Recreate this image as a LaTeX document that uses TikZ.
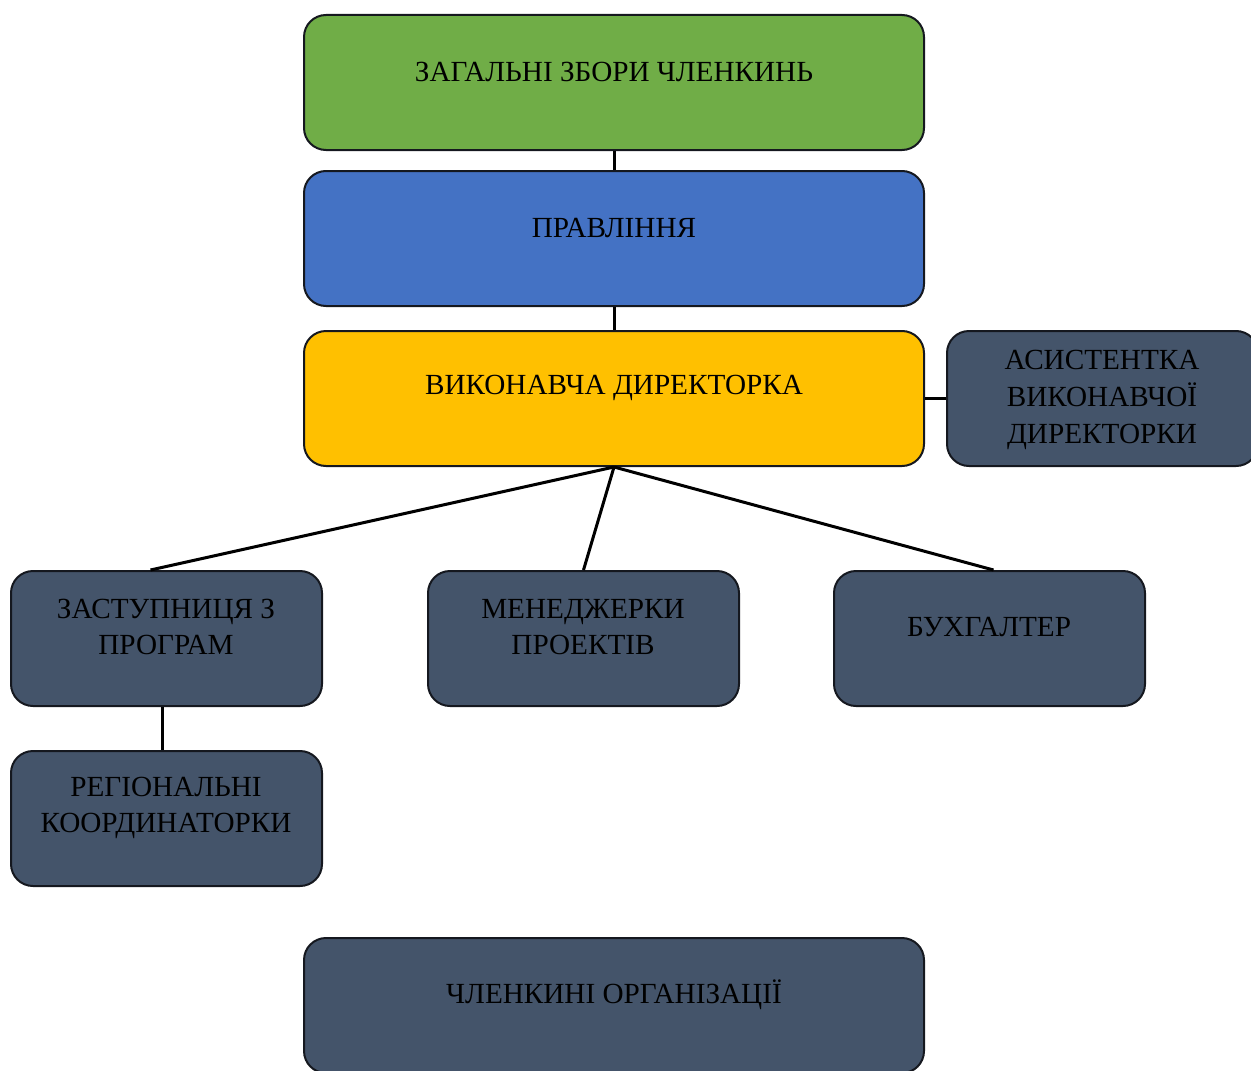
\documentclass[tikz,border=0pt]{standalone}
\usepackage{fontspec}
\setmainfont{Liberation Serif}
\definecolor{zelenyi}{HTML}{70AD47}
\definecolor{synii}{HTML}{4472C4}
\definecolor{zhovtyi}{HTML}{FFC000}
\definecolor{siryi}{HTML}{44546A}
\definecolor{obvid}{HTML}{15181F}
\tikzset{
    orgbox/.style={
        draw=obvid,
        line width=1pt,
        rounded corners=11pt,
        fill=#1,
        minimum width=310pt,
        minimum height=67.5pt,
        inner sep=0pt
    },
    smallbox/.style={
        orgbox=siryi,
        minimum width=155.5pt
    },
    boxtext/.style={
        align=center,
        inner sep=0pt,
        font=\fontsize{14.6}{18.4}\selectfont
    },
    link/.style={
        line width=1.5pt
    }
}

\begin{document}
\begin{tikzpicture}[x=0.5pt, y=-0.5pt]
\useasboundingbox (0,0) rectangle (1251,1070);
\clip (0,0) rectangle (1251,1070);

% boxes of the main column:
\node [orgbox=zelenyi] (zbory) at (614,82.5) {};
\node [orgbox=synii] (pravlinnia) at (614,238.5) {};
\node [orgbox=zhovtyi] (dyrektorka) at (614,398.5) {};
\node [orgbox=siryi] (chlenkyni) at (614,1005.5) {};

% staff boxes:
\node [smallbox] (asystentka) at (1102.5,398.5) {};
\node [smallbox] (zastupnytsia) at (166.5,638.5) {};
\node [smallbox] (menedzherky) at (583.5,638.5) {};
\node [smallbox] (bukhalter) at (989.5,638.5) {};
\node [smallbox] (rehionalni) at (166.5,818.5) {};

% texts, set a little above the middle
\node [boxtext] (zbory-t) at (614,72) {ЗАГАЛЬНІ ЗБОРИ ЧЛЕНКИНЬ};
\node [boxtext] (pravlinnia-t) at (614,228) {ПРАВЛІННЯ};
\node [boxtext] (dyrektorka-t) at (614,388) {ВИКОНАВЧА ДИРЕКТОРКА};
\node [boxtext] (asystentka-t) at (1102,400) {АСИСТЕНТКА\\ВИКОНАВЧОЇ\\ДИРЕКТОРКИ};
\node [boxtext] (zastupnytsia-t) at (166,627) {ЗАСТУПНИЦЯ З\\ПРОГРАМ};
\node [boxtext] (menedzherky-t) at (583,627) {МЕНЕДЖЕРКИ\\ПРОЕКТІВ};
\node [boxtext] (bukhalter-t) at (989,627) {БУХГАЛТЕР};
\node [boxtext] (rehionalni-t) at (166,808) {РЕГІОНАЛЬНІ\\КООРДИНАТОРКИ};
\node [boxtext] (chlenkyni-t) at (614,995) {ЧЛЕНКИНІ ОРГАНІЗАЦІЇ};

% connectors
\draw [link] (zbory.south) -- (pravlinnia.north);
\draw [link] (pravlinnia.south) -- (dyrektorka.north);
\draw [link] (dyrektorka.east) -- (asystentka.west);
\draw [link] (dyrektorka.south) -- ([xshift=-8pt]zastupnytsia.north);
\draw [link] (dyrektorka.south) -- (menedzherky.north);
\draw [link] (dyrektorka.south) -- ([xshift=2pt]bukhalter.north);
\draw [link] ([xshift=-2pt]zastupnytsia.south) -- ([xshift=-2pt]rehionalni.north);

\end{tikzpicture}
\end{document}
